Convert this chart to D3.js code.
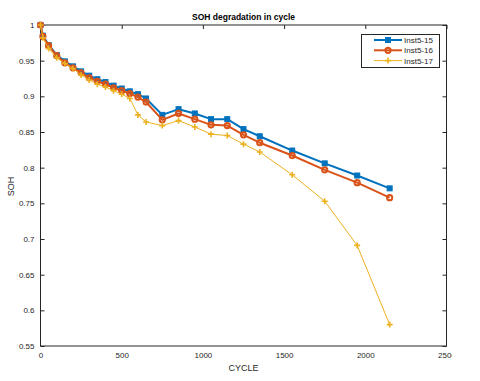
<!DOCTYPE html>
<html><head><meta charset="utf-8">
<script src="https://cdn.jsdelivr.net/npm/d3@7"></script>
<style>body{margin:0;background:#fff}svg{display:block}text{font-family:"Liberation Sans",Arial,sans-serif}</style>
</head><body><div id="chart"></div>
<script>
const cycles = [0, 15, 50, 100, 150, 200, 250, 300, 350, 400, 450, 500, 550, 600, 650, 750, 850, 950, 1050, 1150, 1250, 1350, 1550, 1750, 1950, 2150];
const inst15 = [1.000, 0.985, 0.972, 0.958, 0.949, 0.942, 0.935, 0.929, 0.924, 0.920, 0.915, 0.911, 0.907, 0.903, 0.897, 0.874, 0.882, 0.876, 0.868, 0.868, 0.854, 0.844, 0.824, 0.806, 0.789, 0.771];
const inst16 = [1.000, 0.984, 0.971, 0.957, 0.947, 0.940, 0.933, 0.926, 0.921, 0.917, 0.912, 0.908, 0.904, 0.899, 0.892, 0.867, 0.876, 0.868, 0.860, 0.859, 0.846, 0.835, 0.817, 0.797, 0.779, 0.758];
const inst17 = [1.000, 0.982, 0.967, 0.954, 0.946, 0.939, 0.930, 0.923, 0.917, 0.913, 0.908, 0.903, 0.897, 0.874, 0.864, 0.859, 0.866, 0.857, 0.847, 0.845, 0.833, 0.822, 0.790, 0.753, 0.691, 0.580];
const seriesNames = ["Inst5-15", "Inst5-16", "Inst5-17"];
const xTicks = [0, 500, 1000, 1500, 2000, 2500];
const yTicks = [0.55, 0.6, 0.65, 0.7, 0.75, 0.8, 0.85, 0.9, 0.95, 1];
const titleText = "SOH degradation in cycle";
const xLabel = "CYCLE", yLabel = "SOH";

const W = 480, H = 381;
const L = 40.5, R = 446.5, T = 25, B = 346;
const axisColor = "#262626";
const colors = ["#0072BD", "#D95319", "#EDB120"];
const widths = [2, 2, 1];

const svg = d3.select("#chart").append("svg").attr("width", W).attr("height", H);
const x = d3.scaleLinear().domain([0, 2500]).range([L, R]);
const y = d3.scaleLinear().domain([0.55, 1]).range([B, T]);

svg.append("defs").append("clipPath").attr("id", "figclip")
  .append("rect").attr("x", 0).attr("y", 0).attr("width", 452).attr("height", H);

// box
svg.append("rect").attr("x", L).attr("y", T).attr("width", R - L).attr("height", B - T)
  .attr("fill", "#fff").attr("stroke", axisColor).attr("stroke-width", 1);

const fmtY = d => d3.format("")(+d.toFixed(2));
// bottom axis
const gx = svg.append("g").attr("transform", `translate(0,${B})`).attr("clip-path", "url(#figclip)")
  .call(d3.axisBottom(x).tickValues(xTicks).tickSize(-4).tickPadding(6).tickFormat(d3.format("d")));
const gxt = svg.append("g").attr("transform", `translate(0,${T})`)
  .call(d3.axisTop(x).tickValues(xTicks).tickSize(-4).tickFormat(""));
const gy = svg.append("g").attr("transform", `translate(${L},0)`)
  .call(d3.axisLeft(y).tickValues(yTicks).tickSize(-4).tickPadding(6).tickFormat(fmtY));
const gyr = svg.append("g").attr("transform", `translate(${R},0)`)
  .call(d3.axisRight(y).tickValues(yTicks).tickSize(-4).tickFormat(""));
[gx, gxt, gy, gyr].forEach(g => {
  g.select(".domain").remove();
  g.selectAll("line").attr("stroke", axisColor);
  g.selectAll("text").attr("fill", axisColor).style("font-size", "8px").style("font-family", "'Liberation Sans',Arial,sans-serif");
});

const seriesData = [inst15, inst16, inst17];
const line = d3.line().x((d, i) => x(cycles[i])).y(d => y(d));

seriesData.forEach((vals, k) => {
  svg.append("path").datum(vals).attr("d", line).attr("fill", "none")
    .attr("stroke", colors[k]).attr("stroke-width", widths[k]).attr("stroke-linejoin", "round");
  const g = svg.append("g");
  vals.forEach((v, i) => drawMarker(g, k, x(cycles[i]), y(v)));
});

function drawMarker(g, k, cx, cy) {
  if (k === 0) {
    g.append("rect").attr("x", cx - 2.5).attr("y", cy - 2.5).attr("width", 5).attr("height", 5)
      .attr("fill", colors[0]).attr("stroke", colors[0]).attr("stroke-width", 1);
  } else if (k === 1) {
    g.append("circle").attr("cx", cx).attr("cy", cy).attr("r", 2.6)
      .attr("fill", "none").attr("stroke", colors[1]).attr("stroke-width", 2);
  } else {
    g.append("path").attr("d", `M${cx - 3},${cy}H${cx + 3}M${cx},${cy - 3}V${cy + 3}`)
      .attr("stroke", colors[2]).attr("stroke-width", 1.6).attr("fill", "none");
  }
}

// title and labels
svg.append("text").attr("x", (L + R) / 2).attr("y", 20).attr("text-anchor", "middle")
  .attr("fill", "#000").style("font-size", "8.5px").style("font-weight", "bold").text(titleText);
svg.append("text").attr("x", (L + R) / 2).attr("y", 371).attr("text-anchor", "middle")
  .attr("fill", axisColor).style("font-size", "9px").text(xLabel);
svg.append("text").attr("transform", `translate(14,${(T + B) / 2 + 1}) rotate(-90)`).attr("text-anchor", "middle")
  .attr("fill", axisColor).style("font-size", "9px").text(yLabel);

// legend
const lg = svg.append("g");
lg.append("rect").attr("x", 361.5).attr("y", 34.5).attr("width", 78).attr("height", 33)
  .attr("fill", "#fff").attr("stroke", axisColor).attr("stroke-width", 1);
seriesNames.forEach((name, k) => {
  const ly = 40 + k * 10.3;
  lg.append("line").attr("x1", 374).attr("x2", 402).attr("y1", ly).attr("y2", ly)
    .attr("stroke", colors[k]).attr("stroke-width", widths[k]);
  drawMarker(lg, k, 388, ly);
  lg.append("text").attr("x", 404).attr("y", ly + 3).attr("fill", axisColor)
    .style("font-size", "8px").text(name);
});
</script></body></html>
